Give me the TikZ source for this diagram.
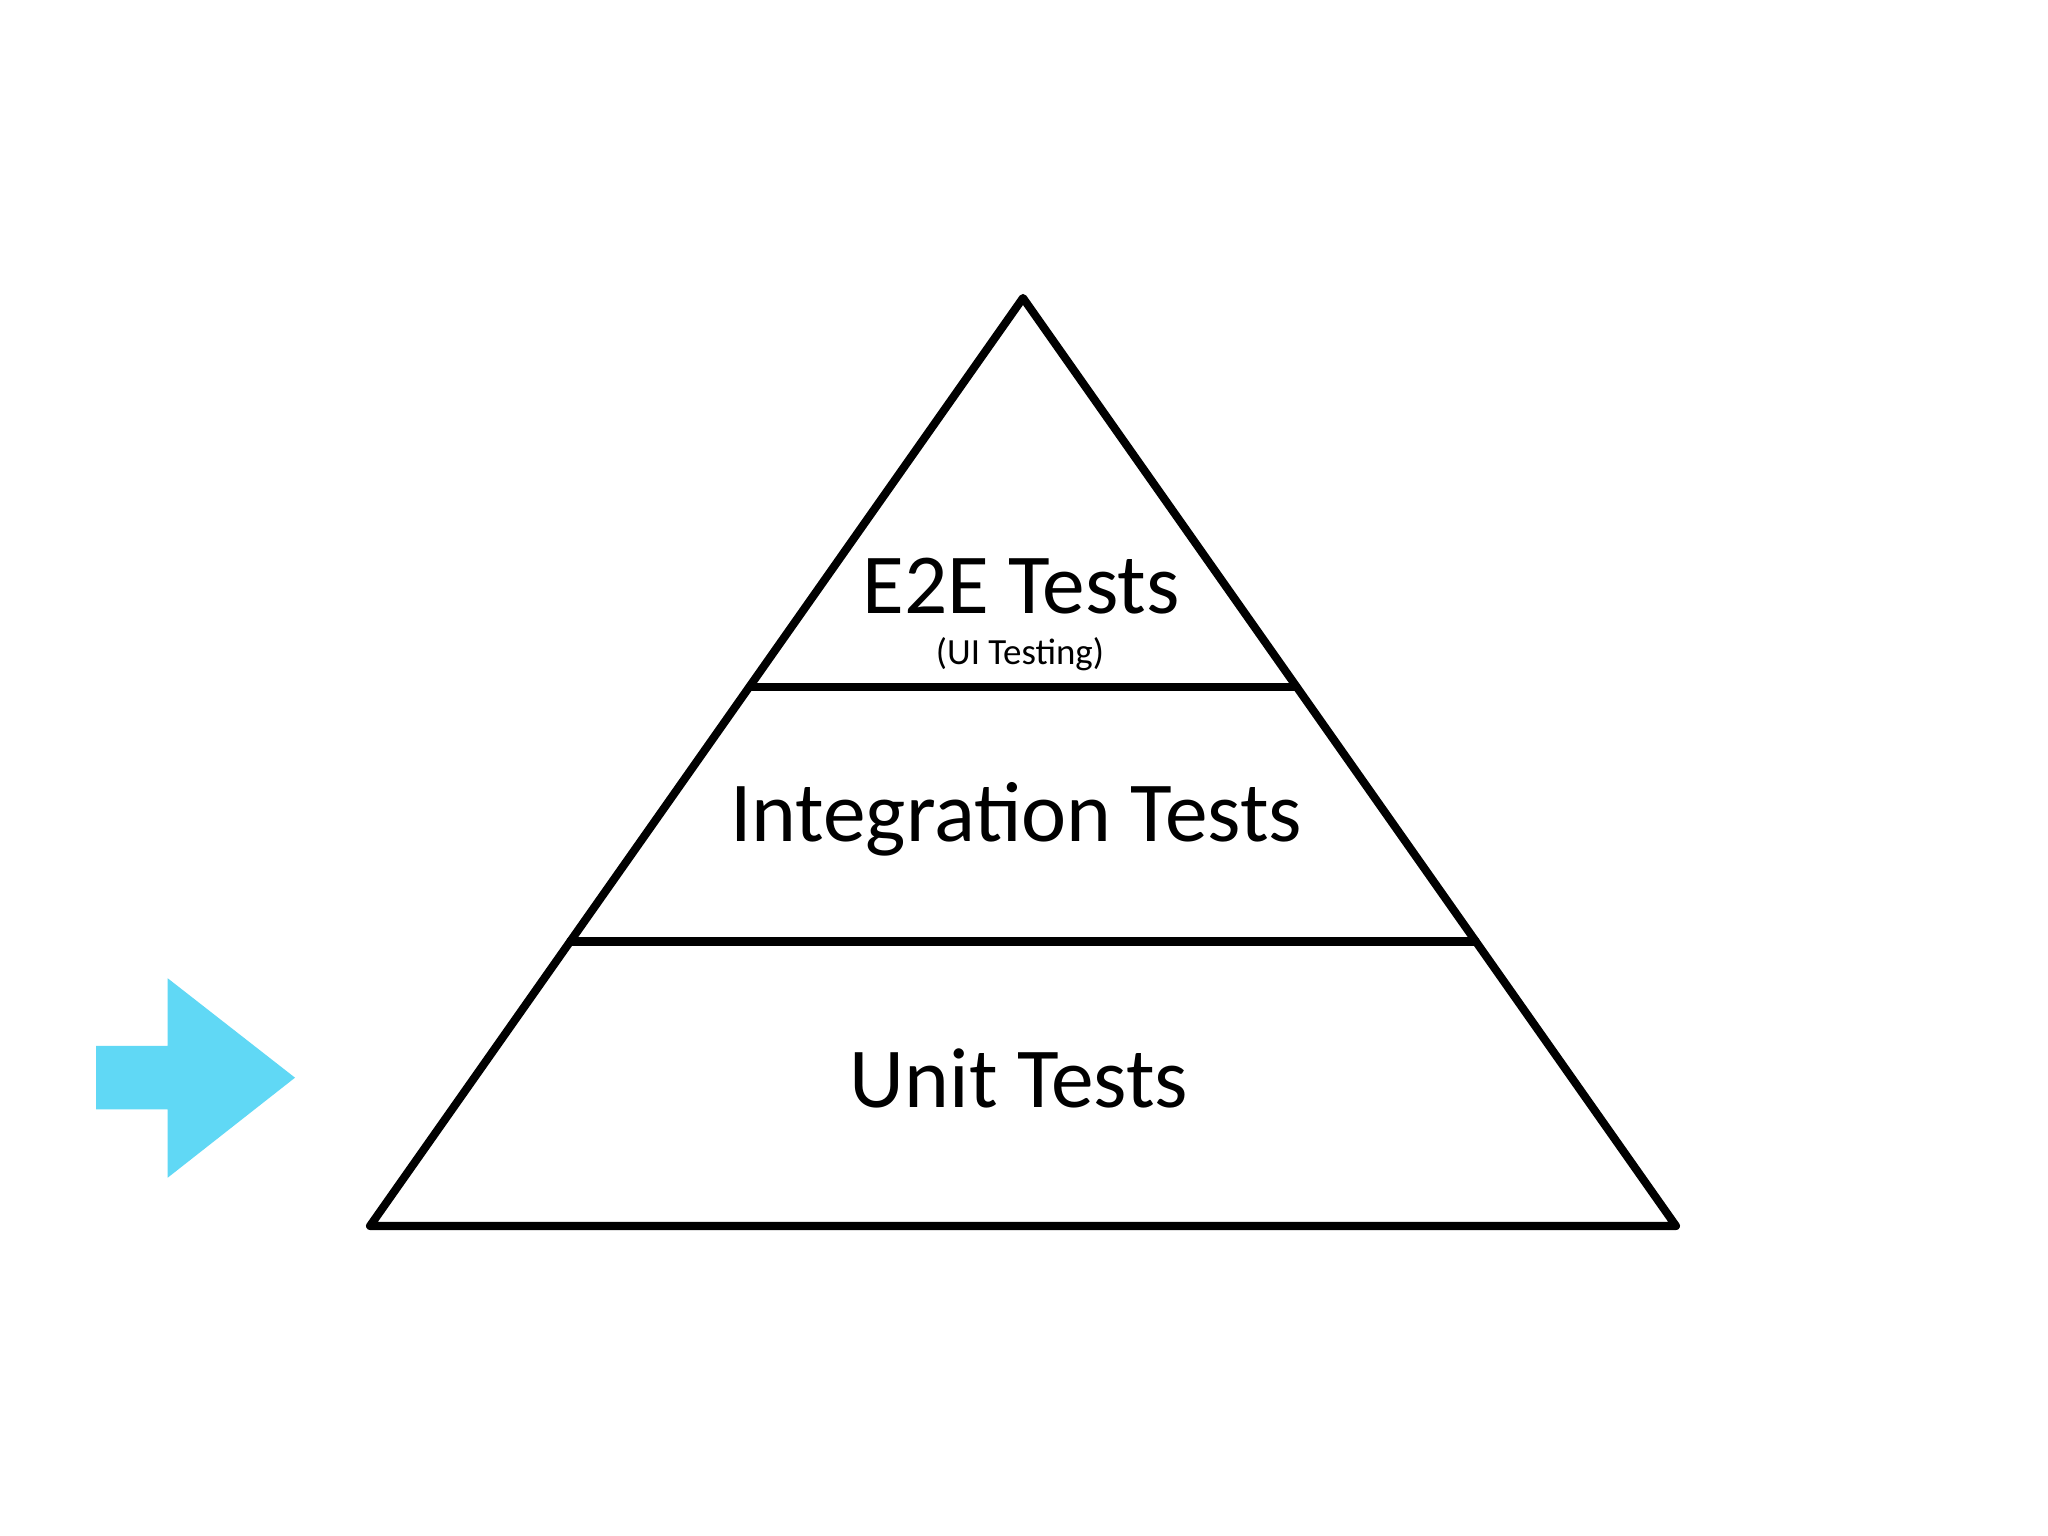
\documentclass[tikz,border=0pt]{standalone}
\usepackage{fontspec}
\setmainfont{Carlito}
\usetikzlibrary{calc}
\definecolor{pyramidLine}{RGB}{0,0,0}
\definecolor{pyramidArrow}{RGB}{96,216,245}
\begin{document}
\begin{tikzpicture}[x=1cm,y=1cm,
      level/.style={font=\fontsize{24.3}{28}\selectfont, text=pyramidLine, anchor=base},
      sublevel/.style={font=\fontsize{10.5}{12}\selectfont, text=pyramidLine, anchor=base},
      edge/.style={draw=pyramidLine, line width=2.3pt, line cap=round, line join=round},
      pointer/.style={fill=pyramidArrow}]
      \useasboundingbox (0,0) rectangle (20.48,15.36);
      \fill[white] (0,0) rectangle (20.48,15.36);

      \coordinate (apex) at (10.23,12.38);
      \coordinate (baseL) at (3.70,3.10);
      \coordinate (baseR) at (16.76,3.10);
      \coordinate (topL) at ($(apex)!.419!(baseL)$);
      \coordinate (topR) at ($(apex)!.419!(baseR)$);
      \coordinate (midL) at ($(apex)!.6934!(baseL)$);
      \coordinate (midR) at ($(apex)!.6934!(baseR)$);

      \draw[edge] (apex) -- (baseR) -- (baseL) -- cycle;
      \draw[edge] (topL) -- (topR);
      \draw[edge] (midL) -- (midR);

      \node[level] (e2e) at (10.21,9.22) {E2E Tests};
      \node[sublevel] (ui) at (10.20,8.71) {(UI Testing)};
      \node[level] (integration) at (10.16,6.94) {Integration Tests};
      \node[level] (unit) at (10.19,4.28) {Unit Tests};

      \path[pointer] (.96,4.90) -- (1.677,4.90) -- (1.677,5.577) -- (2.95,4.583)
        -- (1.677,3.583) -- (1.677,4.267) -- (.96,4.267) -- cycle;
    \end{tikzpicture}
\end{document}
